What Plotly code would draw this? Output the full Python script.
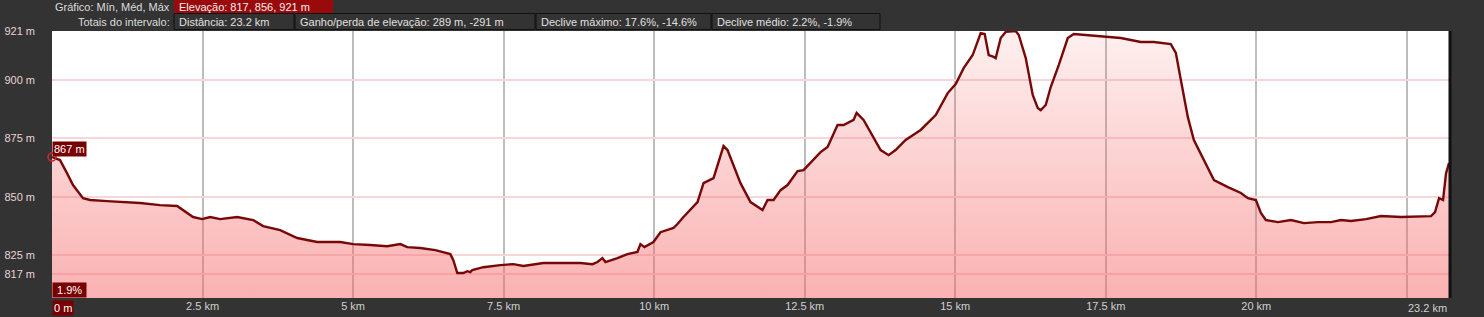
import plotly.graph_objects as go

# ---- data ----
dist_km = [0, 0.133, 0.249, 0.349, 0.515, 0.632, 0.914, 1.463, 1.795, 2.078, 2.343, 2.493, 2.626, 2.792,
           3.075, 3.341, 3.507, 3.789, 4.072, 4.404, 4.786, 5.002, 5.285, 5.568, 5.784, 5.900, 6.116, 6.366,
           6.615, 6.665, 6.731, 6.831, 6.897, 6.947, 6.980, 7.163, 7.446, 7.662, 7.828, 7.994, 8.160, 8.393,
           8.609, 8.775, 8.975, 9.058, 9.141, 9.191, 9.390, 9.556, 9.722, 9.772, 9.839, 9.939, 9.988, 10.105,
           10.321, 10.387, 10.487, 10.720, 10.820, 10.986, 11.152, 11.218, 11.434, 11.600, 11.800, 11.883,
           11.983, 12.099, 12.215, 12.382, 12.481, 12.764, 12.880, 13.046, 13.146, 13.312, 13.362, 13.478,
           13.678, 13.761, 13.894, 14.010, 14.176, 14.426, 14.676, 14.875, 15.008, 15.140, 15.290, 15.373,
           15.423, 15.489, 15.556, 15.639, 15.672, 15.755, 15.838, 16.005, 16.055, 16.171, 16.287, 16.370,
           16.420, 16.503, 16.586, 16.719, 16.869, 16.969, 17.135, 17.467, 17.750, 18.082, 18.298, 18.580,
           18.664, 18.747, 18.863, 18.963, 19.129, 19.296, 19.528, 19.744, 19.860, 19.993, 20.076, 20.159,
           20.359, 20.575, 20.791, 21.024, 21.240, 21.406, 21.572, 21.821, 22.071, 22.403, 22.902, 22.968,
           23.035, 23.101, 23.151, 23.200]
elev_m = [867.0, 865.7, 860.1, 855.0, 849.4, 848.6, 848.1, 847.3, 846.4, 846.0, 841.3, 840.4, 841.3, 840.4,
          841.3, 840.0, 837.4, 835.7, 832.3, 830.6, 830.6, 829.7, 829.3, 828.8, 829.7, 828.4, 828.0, 827.1,
          825.4, 822.8, 817.3, 817.3, 818.1, 817.7, 818.6, 819.8, 820.7, 821.1, 820.3, 821.1, 821.6, 821.6,
          821.6, 821.6, 821.1, 822.0, 823.7, 822.0, 823.7, 825.4, 826.3, 829.7, 828.4, 830.1, 830.6, 834.8,
          836.6, 838.3, 841.3, 847.7, 855.8, 858.0, 871.7, 870.0, 855.8, 847.7, 844.3, 848.6,
          848.6, 852.8, 855.0, 861.0, 861.4, 869.1, 871.3, 880.7, 880.7, 882.9, 885.9, 882.9,
          873.4, 870.0, 867.8, 870.0, 874.3, 878.6, 885.0, 894.4, 898.3, 905.1, 910.7, 917.1,
          920.1, 919.7, 910.7, 909.9, 909.4, 918.0, 920.6, 921.0, 919.3, 909.4, 893.6, 888.0,
          887.1, 889.3, 897.0, 906.4, 918.0, 919.7, 919.3, 918.4, 918.0, 916.3, 916.3, 915.4,
          911.6, 900.0, 884.1, 874.3, 865.7, 857.1, 854.1, 851.6, 849.4, 848.6, 843.0, 840.0,
          839.1, 840.0, 838.7, 839.1, 839.1, 840.0, 839.6, 840.4, 841.7, 841.3, 841.7, 843.4,
          849.4, 848.6, 860.1, 864.4]

x_tickvals = [0, 2.5, 5, 7.5, 10, 12.5, 15, 17.5, 20, 22.5]
x_ticktext = ["", "2.5 km", "5 km", "7.5 km", "10 km", "12.5 km", "15 km", "17.5 km", "20 km", ""]
y_tickvals = [817, 825, 850, 875, 900, 921]
y_ticktext = ["817 m", "825 m", "850 m", "875 m", "900 m", "921 m"]
total_km = 23.2
end_label = "23.2 km"
start_label = "0 m"
slope_label = "1.9%"

hdr1_label = "Gráfico: Mín, Méd, Máx"
hdr1_box = "Elevação: 817, 856, 921 m"
hdr2_label = "Totais do intervalo:"
hdr2_boxes = ["Distância: 23.2 km", "Ganho/perda de elevação: 289 m, -291 m",
              "Declive máximo: 17.6%, -14.6%", "Declive médio: 2.2%, -1.9%"]

# ---- layout geometry (pixels) ----
W, H = 1484, 317
L, R, T, B = 52, 35, 31, 19
PW, PH = W - L - R, H - T - B


def fx(px):
    return (px - L) / PW


def fy(py):
    return (H - B - py) / PH


FONT = "Arial, Liberation Sans, sans-serif"
DARKRED = "#780000"

fig = go.Figure()
fig.add_trace(go.Scatter(
    x=dist_km, y=elev_m, mode="lines",
    line=dict(color="#780808", width=2.4),
    fill="tozeroy",
    fillgradient=dict(type="vertical", start=806.6, stop=921,
                      colorscale=[[0, "rgba(245,100,100,0.50)"], [1, "rgba(245,100,100,0.10)"]]),
    hoverinfo="skip", showlegend=False,
))
fig.add_trace(go.Scatter(
    x=[dist_km[0]], y=[elev_m[0]], mode="markers",
    marker=dict(size=8, color="rgba(0,0,0,0)", line=dict(color="#d42a2a", width=1.5)),
    cliponaxis=False, hoverinfo="skip", showlegend=False,
))

fig.update_layout(
    template="none",
    width=W, height=H,
    margin=dict(l=L, r=R, t=T, b=B, pad=0),
    paper_bgcolor="#333333", plot_bgcolor="#ffffff",
    font=dict(family=FONT, size=11, color="#dddddd"),
    xaxis=dict(range=[0, total_km], tickvals=x_tickvals, ticktext=x_ticktext, automargin=False,
               showgrid=True, gridcolor="#bdbdbd", gridwidth=2, zeroline=False,
               showline=False, ticks="", tickfont=dict(color="#d0d0d0", size=11)),
    yaxis=dict(range=[806.6, 921], tickvals=y_tickvals, ticktext=y_ticktext, automargin=False,
               showgrid=True, gridcolor="#f7d6da", gridwidth=2, zeroline=False,
               showline=False, ticks="", ticklabelstandoff=16,
               tickfont=dict(color="#e8d4d4", size=11)),
)

shapes = []
annots = []

# right border
shapes.append(dict(type="line", xref="paper", yref="paper", x0=fx(1450), x1=fx(1450), y0=fy(31), y1=fy(298),
                   line=dict(color="#111111", width=3)))

# header row 1
annots.append(dict(xref="paper", yref="paper", x=fx(172), y=fy(6.5), xanchor="right", yanchor="middle",
                   text=hdr1_label, showarrow=False, font=dict(color="#dddddd", size=11)))
shapes.append(dict(type="rect", xref="paper", yref="paper", x0=fx(174), x1=fx(333), y0=fy(0), y1=fy(13),
                   fillcolor="#9a0a0a", line=dict(width=0)))
annots.append(dict(xref="paper", yref="paper", x=fx(177), y=fy(6.5), xanchor="left", yanchor="middle",
                   text=hdr1_box, showarrow=False, font=dict(color="#f0f0f0", size=11)))

# header row 2
annots.append(dict(xref="paper", yref="paper", x=fx(172), y=fy(21.5), xanchor="right", yanchor="middle",
                   text=hdr2_label, showarrow=False, font=dict(color="#dddddd", size=11)))
box_edges = [(174, 294), (295, 535), (536, 711), (712, 880)]
for (x0, x1), txt in zip(box_edges, hdr2_boxes):
    shapes.append(dict(type="rect", xref="paper", yref="paper", x0=fx(x0), x1=fx(x1), y0=fy(13.5), y1=fy(29.5),
                       fillcolor="#333333", line=dict(color="#111111", width=1)))
    annots.append(dict(xref="paper", yref="paper", x=fx(x0 + 3), y=fy(21.5), xanchor="left", yanchor="middle",
                       text=txt, showarrow=False, font=dict(color="#e0e0e0", size=11)))

# value labels
annots.append(dict(xref="paper", yref="paper", x=fx(52), y=fy(148.5), xanchor="left", yanchor="middle",
                   text=f"{elev_m[0]:.0f} m", showarrow=False, bgcolor=DARKRED, borderpad=1,
                   font=dict(color="#ffffff", size=11)))
annots.append(dict(xref="paper", yref="paper", x=fx(52), y=fy(289.5), xanchor="left", yanchor="middle",
                   text=f"&nbsp;{slope_label}&nbsp;", showarrow=False, bgcolor=DARKRED, borderpad=1,
                   font=dict(color="#ffffff", size=11)))
annots.append(dict(xref="paper", yref="paper", x=fx(52), y=fy(307.5), xanchor="left", yanchor="middle",
                   text=start_label, showarrow=False, bgcolor=DARKRED, borderpad=1,
                   font=dict(color="#ffffff", size=11)))
annots.append(dict(xref="x", yref="paper", x=total_km, y=fy(307.5), xanchor="right", yanchor="middle",
                   text=end_label, showarrow=False, font=dict(color="#d0d0d0", size=11)))

fig.update_layout(shapes=shapes, annotations=annots)
fig.write_html("out.html")
